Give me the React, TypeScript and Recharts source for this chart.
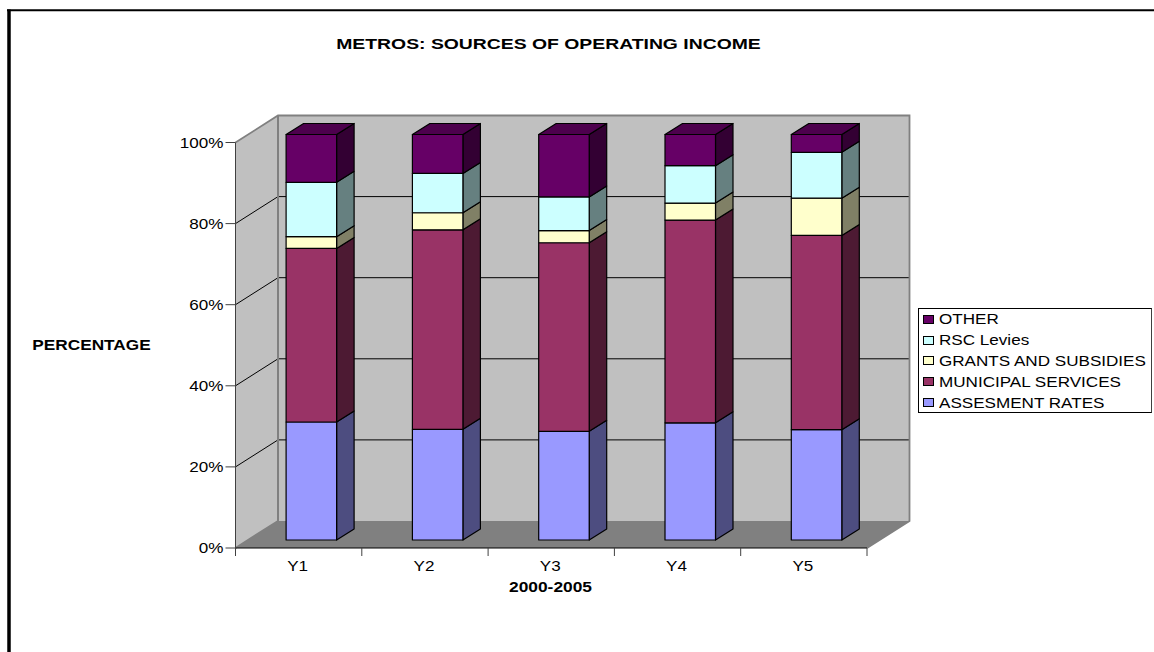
import { Bar, BarChart, Legend, XAxis, YAxis } from "recharts";

const categories = ["Y1", "Y2", "Y3", "Y4", "Y5"];
const assessmentRates = [29.1, 27.3, 26.8, 28.9, 27.2];
const municipalServices = [42.8, 49.2, 46.5, 50.0, 47.9];
const grantsAndSubsidies = [2.9, 4.2, 3.0, 4.2, 9.2];
const rscLevies = [13.4, 9.7, 8.3, 9.2, 11.3];
const other = [11.8, 9.6, 15.4, 7.7, 4.4];
const percentTicks = [0, 20, 40, 60, 80, 100];

const seriesList = [
  { key: "assessment", name: "ASSESMENT RATES", values: assessmentRates, fill: "#9999ff", side: "#4d4d80" },
  { key: "municipal", name: "MUNICIPAL SERVICES", values: municipalServices, fill: "#993366", side: "#4d1a33" },
  { key: "grants", name: "GRANTS AND SUBSIDIES", values: grantsAndSubsidies, fill: "#ffffcc", side: "#808066" },
  { key: "rsc", name: "RSC Levies", values: rscLevies, fill: "#ccffff", side: "#668080" },
  { key: "other", name: "OTHER", values: other, fill: "#660066", side: "#330033", top: "#4d004d" },
];

const data = categories.map((name, i) => {
  const row: Record<string, string | number> = { name };
  seriesList.forEach((s) => {
    row[s.key] = s.values[i];
  });
  return row;
});

// front plane of the plot
const LEFT = 235.5;
const RIGHT = 867;
const TOP = 142.5;
const BOTTOM = 548;
const BAND = (RIGHT - LEFT) / categories.length;
// how far the back wall sits behind the front plane
const DEPTH_X = 42.5;
const DEPTH_Y = 27;
// columns stand part way into the floor and have their own depth
const COL_SHIFT_X = 12.6;
const COL_SHIFT_Y = 8;
const COL_DEPTH_X = 17.5;
const COL_DEPTH_Y = 11;

const FONT = "'Liberation Sans', Arial, sans-serif";
const STRETCH = 1.22;

const yOf = (pct: number) => BOTTOM - ((BOTTOM - TOP) * pct) / 100;

const StretchedText = ({ x, y, anchor = "start", bold = false, size = 14, stretch = STRETCH, children }: any) => (
  <text
    transform={`translate(${x},${y}) scale(${stretch},1)`}
    textAnchor={anchor}
    fontFamily={FONT}
    fontSize={size}
    fontWeight={bold ? "bold" : "normal"}
    fill="#000"
  >
    {children}
  </text>
);

// walls, floor and the gridlines that run along them
const Room = () => {
  const backLeft = LEFT + DEPTH_X;
  const backRight = RIGHT + DEPTH_X;
  const backTop = TOP - DEPTH_Y;
  const backBottom = BOTTOM - DEPTH_Y;
  return (
    <g>
      <polygon
        points={`${LEFT},${BOTTOM} ${backLeft},${backBottom} ${backLeft},${backTop} ${LEFT},${TOP}`}
        fill="#c0c0c0"
      />
      <rect x={backLeft} y={backTop} width={backRight - backLeft} height={backBottom - backTop} fill="#c0c0c0" />
      <polygon
        points={`${LEFT},${BOTTOM} ${RIGHT},${BOTTOM} ${backRight},${backBottom} ${backLeft},${backBottom}`}
        fill="#808080"
      />
      {percentTicks
        .filter((t) => t > 0 && t < 100)
        .map((t) => (
          <polyline
            key={t}
            points={`${LEFT},${yOf(t)} ${backLeft},${yOf(t) - DEPTH_Y} ${backRight},${yOf(t) - DEPTH_Y}`}
            fill="none"
            stroke="#000"
            strokeWidth={1}
          />
        ))}
      <polyline
        points={`${LEFT},${TOP} ${backLeft},${backTop} ${backRight},${backTop} ${backRight},${backBottom} ${RIGHT},${BOTTOM}`}
        fill="none"
        stroke="#808080"
        strokeWidth={1.8}
      />
      <polyline
        points={`${LEFT},${BOTTOM} ${backLeft},${backBottom} ${backLeft},${backTop}`}
        fill="none"
        stroke="#808080"
        strokeWidth={2}
      />
    </g>
  );
};

// one stacked segment as a box: front face, right side, and a lid on the last series
const Column3D = ({ x, y, width, height, fill, side, top }: any) => {
  const fx = x + COL_SHIFT_X;
  const fy = y - COL_SHIFT_Y;
  const r = fx + width;
  return (
    <g stroke="#000" strokeWidth={1.2} strokeLinejoin="round">
      <polygon
        points={`${r},${fy} ${r + COL_DEPTH_X},${fy - COL_DEPTH_Y} ${r + COL_DEPTH_X},${fy + height - COL_DEPTH_Y} ${r},${fy + height}`}
        fill={side}
      />
      <rect x={fx} y={fy} width={width} height={height} fill={fill} />
      {top && (
        <polygon
          points={`${fx},${fy} ${fx + COL_DEPTH_X},${fy - COL_DEPTH_Y} ${r + COL_DEPTH_X},${fy - COL_DEPTH_Y} ${r},${fy}`}
          fill={top}
        />
      )}
    </g>
  );
};

// label at the category centre, tick marks on the category edges
const CategoryTick = ({ x, y, index, payload }: any) => (
  <g>
    <line x1={x - BAND / 2} x2={x - BAND / 2} y1={BOTTOM} y2={BOTTOM + 8} stroke="#404040" />
    {index === categories.length - 1 && (
      <line x1={x + BAND / 2} x2={x + BAND / 2} y1={BOTTOM} y2={BOTTOM + 8} stroke="#404040" />
    )}
    <StretchedText x={x - 1} y={y + 15} anchor="middle">
      {payload.value}
    </StretchedText>
  </g>
);

const PercentTick = ({ x, y, payload }: any) => (
  <StretchedText x={x} y={y + 5} anchor="end">
    {payload.value}%
  </StretchedText>
);

const LegendBox = ({ payload }: any) => (
  <div
    style={{
      width: 234,
      height: 105,
      boxSizing: "border-box",
      border: "1px solid #000",
      borderRightColor: "#404040",
      background: "#fff",
      padding: "0 0 0 4px",
      fontFamily: FONT,
      fontSize: 14,
      color: "#000",
    }}
  >
    {(payload ?? []).map((item: any) => (
      <div key={item.value} style={{ height: 20.8, display: "flex", alignItems: "center", whiteSpace: "nowrap" }}>
        <span
          style={{
            width: 11,
            height: 9,
            boxSizing: "border-box",
            border: "1px solid #000",
            background: item.color,
            marginRight: 5,
            flex: "none",
          }}
        />
        <span style={{ display: "inline-block", transform: `scaleX(${STRETCH})`, transformOrigin: "left center" }}>
          {item.value}
        </span>
      </div>
    ))}
  </div>
);

// stacked order reads top down in the legend
const legendRank = (item: any) => -seriesList.findIndex((s) => s.name === item.value);

export default function App() {
  return (
    <div style={{ position: "absolute", left: 0, top: 0, width: 1154, height: 652, overflow: "hidden", background: "#fff" }}>
      <BarChart
        width={1154}
        height={652}
        data={data}
        barSize={50.5}
        barCategoryGap={0}
        margin={{ top: TOP, bottom: 652 - BOTTOM - 30, left: LEFT - 60, right: 1154 - RIGHT }}
      >
        <line x1={9} x2={9} y1={9.5} y2={652} stroke="#000" strokeWidth={3.5} />
        <line x1={7} x2={1154} y1={10.2} y2={10.2} stroke="#000" strokeWidth={2} />
        <Room />
        <StretchedText x={548.5} y={49} anchor="middle" bold size={15.5} stretch={1.25}>
          METROS: SOURCES OF OPERATING INCOME
        </StretchedText>
        <StretchedText x={91.5} y={350} anchor="middle" bold size={14} stretch={1.23}>
          PERCENTAGE
        </StretchedText>
        <StretchedText x={550.5} y={592} anchor="middle" bold size={14} stretch={1.24}>
          2000-2005
        </StretchedText>
        <XAxis
          dataKey="name"
          height={30}
          interval={0}
          axisLine={{ stroke: "#000" }}
          tickLine={false}
          tick={<CategoryTick />}
        />
        <YAxis
          width={60}
          domain={[0, 100]}
          ticks={percentTicks}
          axisLine={{ stroke: "#404040" }}
          tickLine={{ stroke: "#404040" }}
          tickSize={10}
          tick={<PercentTick />}
        />
        <Legend
          layout="horizontal"
          verticalAlign="middle"
          itemSorter={legendRank}
          content={<LegendBox />}
          wrapperStyle={{ position: "absolute", left: 918, top: 308, width: 234, height: 105 }}
        />
        {seriesList.map((s) => (
          <Bar
            key={s.key}
            dataKey={s.key}
            name={s.name}
            stackId="share"
            fill={s.fill}
            isAnimationActive={false}
            shape={<Column3D side={s.side} top={s.top} />}
          />
        ))}
      </BarChart>
    </div>
  );
}
